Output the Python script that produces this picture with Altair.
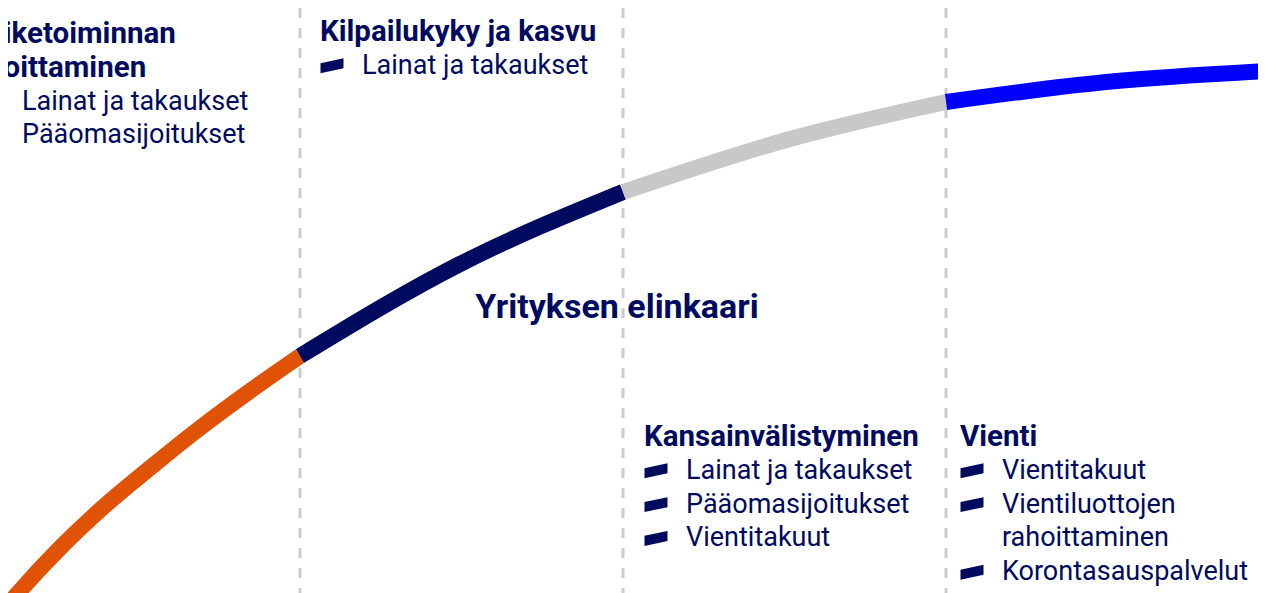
import altair as alt
import pandas as pd

# ---- data ----
# lifecycle curve (horizontal position, height measured from the top)
curve_x = [5, 18, 60, 100, 150, 200, 250, 300, 460, 623, 790, 946, 1106, 1266]
curve_y = [608, 593, 548, 510, 468, 428, 391, 356, 264, 192, 139, 102, 82, 71]
stage_bounds = [300, 623, 946]
stage_keys = ["s1", "s2", "s3", "s4"]
stage_colors = ["#e05206", "#000a5f", "#c8c8c8", "#0000ff"]

titles = [["Liiketoiminnan", "aloittaminen"], ["Kilpailukyky ja kasvu"],
          ["Kansainvälistyminen"], ["Vienti"]]
items = [
    [["Lainat ja takaukset"], ["Pääomasijoitukset"]],
    [["Lainat ja takaukset"]],
    [["Lainat ja takaukset"], ["Pääomasijoitukset"], ["Vientitakuut"]],
    [["Vientitakuut"], ["Vientiluottojen", "rahoittaminen"], ["Korontasauspalvelut"]],
]
center_label = "Yrityksen elinkaari"

# ---- layout ----
col_x = [-20, 320, 644, 960]
col_top = [34, 32, 437, 437]
row_step = 33.8
bullet_dx = 12
text_dx = 42
center_pos = (617, 308)

NAVY = "#000a5f"
FONT = "Roboto"
W, H = 1250, 585

# curve table: each stage gets the points inside its bounds
edges = [-1e9] + stage_bounds + [1e9]
rows = []
for i, key in enumerate(stage_keys):
    for x, y in zip(curve_x, curve_y):
        if edges[i] <= x <= edges[i + 1]:
            rows.append({"x": x, "y": y, "stage": key})
curve_df = pd.DataFrame(rows)

title_rows, item_rows, bullet_rows = [], [], []
for c in range(4):
    y = col_top[c]
    for t in titles[c]:
        title_rows.append({"x": col_x[c], "y": y, "text": t})
        y += row_step
    for it in items[c]:
        bullet_rows.append({"x": col_x[c] + bullet_dx, "y": y})
        for line in it:
            item_rows.append({"x": col_x[c] + text_dx, "y": y, "text": line})
            y += row_step

xs = alt.Scale(domain=[8, 8 + W], nice=False, zero=False)
ys = alt.Scale(domain=[8, 8 + H], nice=False, zero=False, reverse=True)
X = alt.X("x:Q", scale=xs, axis=None)
Y = alt.Y("y:Q", scale=ys, axis=None)

rules = alt.Chart(pd.DataFrame({"x": stage_bounds})).mark_rule(
    color="#cccccc", strokeWidth=3, strokeDash=[10, 10]
).encode(x=X, y=alt.value(0), y2=alt.value(H))

curve = alt.Chart(curve_df).mark_line(
    strokeWidth=16, interpolate="monotone", strokeCap="butt"
).encode(
    x=X, y=Y,
    color=alt.Color("stage:N", scale=alt.Scale(domain=stage_keys, range=stage_colors), legend=None),
    order="x:Q",
)

title_text = alt.Chart(pd.DataFrame(title_rows)).mark_text(
    align="left", baseline="middle", font=FONT, fontSize=29.5, fontWeight="bold", color=NAVY
).encode(x=X, y=Y, text="text:N")

item_text = alt.Chart(pd.DataFrame(item_rows)).mark_text(
    align="left", baseline="middle", font=FONT, fontSize=27, color=NAVY
).encode(x=X, y=Y, text="text:N")

bullet_path = "M-1,-0.22 L1,-0.65 L1,0.22 L-1,0.65 Z"
bullets = alt.Chart(pd.DataFrame(bullet_rows)).mark_point(
    shape=bullet_path, filled=True, size=529, color=NAVY, opacity=1, strokeWidth=0
).encode(x=X, y=Y)

center = alt.Chart(pd.DataFrame({"x": [center_pos[0]], "y": [center_pos[1]], "text": [center_label]})).mark_text(
    align="center", baseline="middle", font=FONT, fontSize=34, fontWeight="bold", color=NAVY
).encode(x=X, y=Y, text="text:N")

chart = alt.layer(rules, curve, bullets, title_text, item_text, center).properties(
    width=W, height=H, padding=0, autosize=alt.AutoSizeParams(type="none")
).configure_view(stroke=None)

chart.save("out.html", embed_options={"renderer": "svg", "actions": False})
